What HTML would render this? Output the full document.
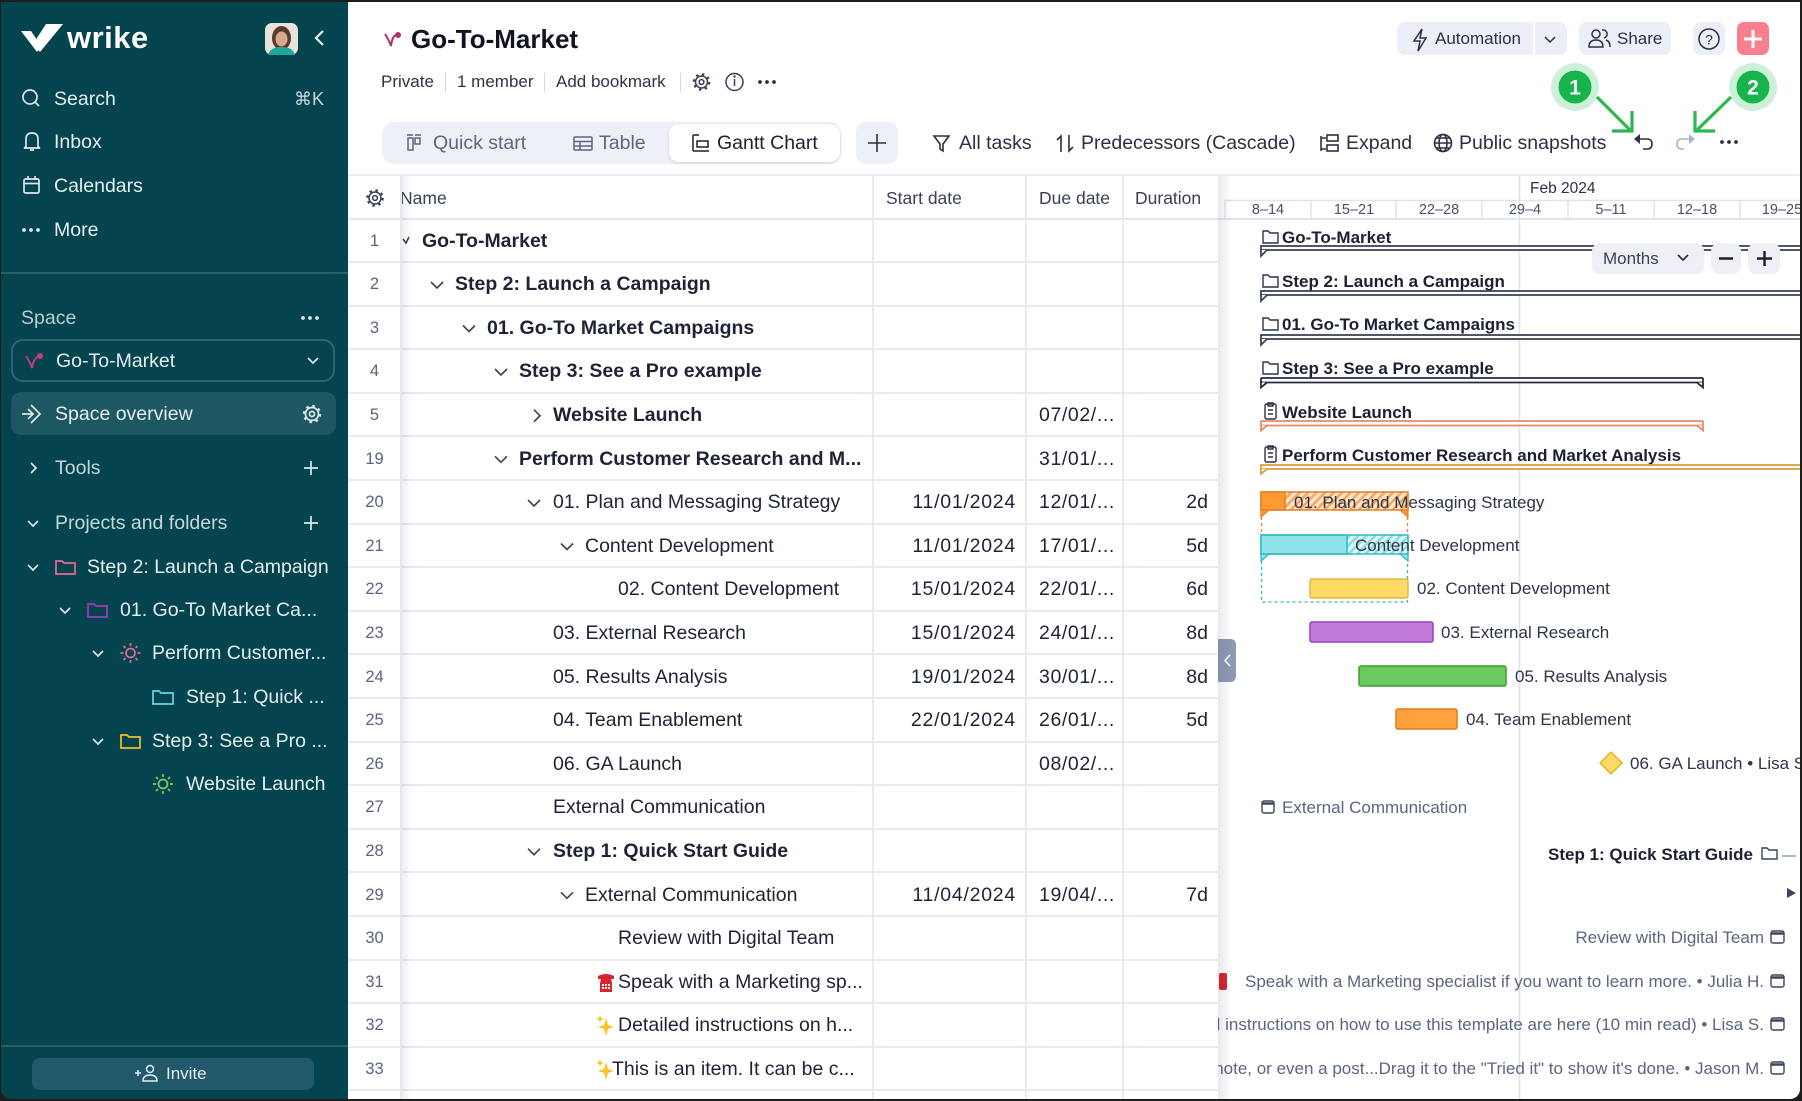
<!DOCTYPE html>
<html><head><meta charset="utf-8">
<style>
*{box-sizing:border-box;margin:0;padding:0}
html,body{width:1802px;height:1101px;overflow:hidden;background:#fff;font-family:"Liberation Sans","DejaVu Sans",sans-serif}
.a{position:absolute}
.t{position:absolute;white-space:nowrap;line-height:30px;height:30px}
.sb{font-size:19.5px;color:#e4eef0}
.row{position:absolute;left:348px;width:870px;height:43.6px;border-bottom:2px solid #e8ebf1}
.row div{position:absolute;top:0;height:43.6px;line-height:42px;white-space:nowrap;font-size:19.5px;color:#1f2336}
.row .n{left:0;width:53px;text-align:center;font-size:16.5px;color:#5b6480}
.row .b{font-weight:bold}
.row .sd{left:525px;width:143px;text-align:right;letter-spacing:.75px}
.row .dd{left:691px;letter-spacing:.6px}
.row .du{left:775px;width:85px;text-align:right}
.tb{font-size:19.5px;color:#2b3044}
.th{font-size:17.5px;color:#3a4055}
</style></head><body>

<!-- sidebar -->
<div class="a" style="left:0;top:0;width:348px;height:1101px;background:#04444e"></div>
<div class="a" style="left:0;top:272px;width:348px;height:2px;background:#2a5f68"></div>
<div class="a" style="left:11px;top:339px;width:324px;height:43px;border:2px solid #2c6570;border-radius:12px"></div>
<div class="a" style="left:11px;top:392px;width:325px;height:43px;background:#1d5862;border-radius:10px"></div>
<div class="a" style="left:0;top:1045px;width:348px;height:2px;background:#2a5f68"></div>
<div class="a" style="left:32px;top:1058px;width:282px;height:32px;background:#22596a;border-radius:8px"></div>

<div class="t" style="left:67px;top:23px;font-size:31px;font-weight:bold;color:#fff;letter-spacing:.5px">wrike</div>
<div class="t sb" style="left:54px;top:84px">Search</div>
<div class="t" style="left:294px;top:84px;font-size:18px;color:#c8d8db">⌘K</div>
<div class="t sb" style="left:54px;top:127px">Inbox</div>
<div class="t sb" style="left:54px;top:171px">Calendars</div>
<div class="t sb" style="left:54px;top:215px">More</div>
<div class="t sb" style="left:21px;top:303px;color:#b9cdd1">Space</div>
<div class="t sb" style="left:56px;top:346px">Go-To-Market</div>
<div class="t sb" style="left:55px;top:399px">Space overview</div>
<div class="t sb" style="left:55px;top:453px;color:#c6d7da">Tools</div>
<div class="t sb" style="left:55px;top:508px;color:#c6d7da">Projects and folders</div>
<div class="t sb" style="left:87px;top:552px">Step 2: Launch a Campaign</div>
<div class="t sb" style="left:120px;top:595px">01. Go-To Market Ca...</div>
<div class="t sb" style="left:152px;top:638px">Perform Customer...</div>
<div class="t sb" style="left:186px;top:682px">Step 1: Quick ...</div>
<div class="t sb" style="left:152px;top:726px">Step 3: See a Pro ...</div>
<div class="t sb" style="left:186px;top:769px">Website Launch</div>
<div class="t" style="left:166px;top:1059px;font-size:17px;color:#e4eef0">Invite</div>

<!-- header -->
<div class="a" style="left:348px;top:174px;width:1454px;height:2px;background:#eceef3"></div>
<div class="t" style="left:411px;top:24px;font-size:26px;font-weight:bold;color:#101322">Go-To-Market</div>
<div class="t" style="left:381px;top:67px;font-size:17px;color:#2e3346">Private</div>
<div class="t" style="left:457px;top:67px;font-size:17px;color:#2e3346">1 member</div>
<div class="t" style="left:556px;top:67px;font-size:17px;color:#2e3346">Add bookmark</div>
<div class="a" style="left:445px;top:73px;width:1px;height:19px;background:#d5d8e0"></div>
<div class="a" style="left:544px;top:73px;width:1px;height:19px;background:#d5d8e0"></div>
<div class="a" style="left:680px;top:73px;width:1px;height:19px;background:#d5d8e0"></div>

<div class="a" style="left:382px;top:122px;width:459px;height:42px;background:#eef0f7;border-radius:12px"></div>
<div class="a" style="left:669px;top:124px;width:171px;height:38px;background:#fff;border-radius:10px;box-shadow:0 1px 3px rgba(30,40,80,.15)"></div>
<div class="a" style="left:856px;top:122px;width:42px;height:42px;background:#eef0f7;border-radius:10px"></div>
<div class="t tb" style="left:433px;top:128px;color:#5d6680">Quick start</div>
<div class="t tb" style="left:599px;top:128px;color:#5d6680">Table</div>
<div class="t tb" style="left:717px;top:128px;color:#1b1f30">Gantt Chart</div>
<div class="t tb" style="left:959px;top:128px">All tasks</div>
<div class="t tb" style="left:1081px;top:128px">Predecessors (Cascade)</div>
<div class="t tb" style="left:1346px;top:128px">Expand</div>
<div class="t tb" style="left:1459px;top:128px">Public snapshots</div>

<div class="a" style="left:1397px;top:22px;width:136px;height:33px;background:#eceff7;border-radius:8px 0 0 8px"></div>
<div class="a" style="left:1535px;top:22px;width:32px;height:33px;background:#eceff7;border-radius:0 8px 8px 0"></div>
<div class="a" style="left:1579px;top:22px;width:92px;height:33px;background:#eceff7;border-radius:8px"></div>
<div class="a" style="left:1693px;top:22px;width:32px;height:33px;background:#eceff7;border-radius:8px"></div>
<div class="a" style="left:1737px;top:22px;width:32px;height:33px;background:#f8808e;border-radius:7px"></div>
<div class="t" style="left:1435px;top:24px;font-size:17px;color:#2b3044">Automation</div>
<div class="t" style="left:1617px;top:24px;font-size:17px;color:#2b3044">Share</div>

<!-- table -->
<div class="t th" style="left:400px;top:183px">Name</div>
<div class="t th" style="left:886px;top:183px">Start date</div>
<div class="t th" style="left:1039px;top:183px">Due date</div>
<div class="t th" style="left:1135px;top:183px">Duration</div>
<div class="a" style="left:348px;top:218px;width:870px;height:2px;background:#e3e7ef"></div>

<div class="row" style="top:219.5px"><div class="n">1</div><div class="b" style="left:74px">Go-To-Market</div></div>
<div class="row" style="top:263.1px"><div class="n">2</div><div class="b" style="left:107px">Step 2: Launch a Campaign</div></div>
<div class="row" style="top:306.7px"><div class="n">3</div><div class="b" style="left:139px">01. Go-To Market Campaigns</div></div>
<div class="row" style="top:350.3px"><div class="n">4</div><div class="b" style="left:171px">Step 3: See a Pro example</div></div>
<div class="row" style="top:393.9px"><div class="n">5</div><div class="b" style="left:205px">Website Launch</div><div class="dd">07/02/...</div></div>
<div class="row" style="top:437.5px"><div class="n">19</div><div class="b" style="left:171px">Perform Customer Research and M...</div><div class="dd">31/01/...</div></div>
<div class="row" style="top:481.1px"><div class="n">20</div><div style="left:205px">01. Plan and Messaging Strategy</div><div class="sd">11/01/2024</div><div class="dd">12/01/...</div><div class="du">2d</div></div>
<div class="row" style="top:524.7px"><div class="n">21</div><div style="left:237px">Content Development</div><div class="sd">11/01/2024</div><div class="dd">17/01/...</div><div class="du">5d</div></div>
<div class="row" style="top:568.3px"><div class="n">22</div><div style="left:270px">02. Content Development</div><div class="sd">15/01/2024</div><div class="dd">22/01/...</div><div class="du">6d</div></div>
<div class="row" style="top:611.9px"><div class="n">23</div><div style="left:205px">03. External Research</div><div class="sd">15/01/2024</div><div class="dd">24/01/...</div><div class="du">8d</div></div>
<div class="row" style="top:655.5px"><div class="n">24</div><div style="left:205px">05. Results Analysis</div><div class="sd">19/01/2024</div><div class="dd">30/01/...</div><div class="du">8d</div></div>
<div class="row" style="top:699.1px"><div class="n">25</div><div style="left:205px">04. Team Enablement</div><div class="sd">22/01/2024</div><div class="dd">26/01/...</div><div class="du">5d</div></div>
<div class="row" style="top:742.7px"><div class="n">26</div><div style="left:205px">06. GA Launch</div><div class="dd">08/02/...</div></div>
<div class="row" style="top:786.3px"><div class="n">27</div><div style="left:205px">External Communication</div></div>
<div class="row" style="top:829.9px"><div class="n">28</div><div class="b" style="left:205px">Step 1: Quick Start Guide</div></div>
<div class="row" style="top:873.5px"><div class="n">29</div><div style="left:237px">External Communication</div><div class="sd">11/04/2024</div><div class="dd">19/04/...</div><div class="du">7d</div></div>
<div class="row" style="top:917.1px"><div class="n">30</div><div style="left:270px">Review with Digital Team</div></div>
<div class="row" style="top:960.7px"><div class="n">31</div><div style="left:270px">Speak with a Marketing sp...</div></div>
<div class="row" style="top:1004.3px"><div class="n">32</div><div style="left:270px">Detailed instructions on h...</div></div>
<div class="row" style="top:1047.9px"><div class="n">33</div><div style="left:264px">This is an item. It can be c...</div></div>

<div class="a" style="left:872px;top:176px;width:2px;height:925px;background:#e8ebf1"></div>
<div class="a" style="left:1025px;top:176px;width:2px;height:925px;background:#e8ebf1"></div>
<div class="a" style="left:1122px;top:176px;width:2px;height:925px;background:#e8ebf1"></div>
<div class="a" style="left:400px;top:176px;width:2px;height:925px;background:#e6e9f0"></div>
<div class="a" style="left:402px;top:176px;width:10px;height:925px;background:linear-gradient(90deg,rgba(20,30,60,.07),rgba(20,30,60,0))"></div>

<!-- global icons -->
<svg class="a" style="left:0;top:0" width="1802" height="1101" viewBox="0 0 1802 1101">
<g fill="#fff">
<polygon points="21,31 31,31 41,46 37,52"/>
<polygon points="33,44 46,24 63,24 40,52"/>
</g>
<rect x="265" y="23" width="33" height="32" rx="7" fill="#e8e2da"/>
<ellipse cx="281.5" cy="38" rx="9.5" ry="12" fill="#5a3a2c"/>
<ellipse cx="281.5" cy="39" rx="6" ry="7.5" fill="#d9a98b"/>
<path d="M268,55 Q270,47 281.5,47 Q293,47 295,55 Z" fill="#1fa79a"/>
<polyline points="323,31 316,38 323,45" fill="none" stroke="#e6eff1" stroke-width="2.2"/>
<g fill="none" stroke="#dce8ea" stroke-width="1.7">
<circle cx="30" cy="97" r="7"/><line x1="35" y1="102" x2="39" y2="106"/>
<path d="M26,147 L26,139 Q26,133 32,133 Q38,133 38,139 L38,147 L40,148 L24,148 Z M30,150 L34,150"/>
<rect x="24" y="179" width="15" height="14" rx="1.5"/><line x1="24" y1="183.5" x2="39" y2="183.5"/><line x1="28" y1="176" x2="28" y2="180"/><line x1="35" y1="176" x2="35" y2="180"/>
<polyline points="308,358 313,363 318,358"/>
<path d="M22,414 L33,414 M28,409 L33,414 L28,419 M31,405 L40,414 L31,423"/>
<circle cx="312" cy="414" r="6.5"/><circle cx="312" cy="414" r="2.5"/><circle cx="312" cy="414" r="8" stroke-width="2.5" stroke-dasharray="2.5 3.8"/>
<polyline points="31,463 36,468 31,473"/>
<path d="M311,461 V475 M304,468 H318 M311,516 V530 M304,523 H318"/>
<polyline points="28,521 33,526 38,521"/>
<polyline points="28,565 33,570 38,565"/>
<polyline points="60,608 65,613 70,608"/>
<polyline points="93,651 98,656 103,651"/>
<polyline points="93,739 98,744 103,739"/>
</g>
<g fill="#dce8ea"><circle cx="24" cy="230" r="1.9"/><circle cx="31" cy="230" r="1.9"/><circle cx="38" cy="230" r="1.9"/>
<circle cx="303" cy="318" r="1.9"/><circle cx="310" cy="318" r="1.9"/><circle cx="317" cy="318" r="1.9"/></g>
<g fill="none" stroke-width="1.7">
<path d="M56,561 h6 l2,2 h11 v11 h-19 z" stroke="#e56b9a"/>
<path d="M88,604 h6 l2,2 h11 v11 h-19 z" stroke="#a23bb8"/>
<path d="M153,691 h6 l2,2 h12 v11 h-20 z" stroke="#6fd3dd"/>
<path d="M121,735 h6 l2,2 h11 v11 h-19 z" stroke="#f2c02e"/>
<g stroke="#e56b9a"><circle cx="130.5" cy="653" r="4.5"/><path d="M130.5,643 v3 M130.5,660 v3 M120.5,653 h3 M137.5,653 h3 M123.5,646 l2,2 M135.5,658 l2,2 M137.5,646 l-2,2 M125.5,658 l-2,2"/></g>
<g stroke="#7ccf62"><circle cx="163" cy="784" r="4.5"/><path d="M163,774 v3 M163,791 v3 M153,784 h3 M170,784 h3 M156,777 l2,2 M168,789 l2,2 M170,777 l-2,2 M158,789 l-2,2"/></g>
<g stroke="#e4eef0" stroke-width="1.5"><circle cx="150" cy="1069" r="3.5"/><path d="M143,1081 Q143,1075 150,1075 Q157,1075 157,1081 Z M135,1073 h6 M138,1070 v6"/></g>
</g>
<g stroke="#c0407a" stroke-width="2" fill="none"><path d="M26,356 Q30,362 32,368 Q33,360 37,357"/></g><circle cx="40" cy="356" r="3" fill="#c0407a"/>
<g stroke="#b0306e" stroke-width="2" fill="none"><path d="M385,34 Q389,40 391,46 Q392,38 395,35"/></g><circle cx="398" cy="35" r="3" fill="#b0306e"/>
<!-- meta icons -->
<g fill="none" stroke="#3a4055" stroke-width="1.5">
<circle cx="701.5" cy="82" r="6"/><circle cx="701.5" cy="82" r="2.4"/><circle cx="701.5" cy="82" r="7.6" stroke-width="2.4" stroke-dasharray="2.4 3.6"/>
<circle cx="734.5" cy="82" r="8.5"/><path d="M734.5,79 v7"/>
</g>
<circle cx="734.5" cy="76.5" r="1.2" fill="#3a4055"/>
<g fill="#2b3044"><circle cx="760" cy="82" r="1.9"/><circle cx="767" cy="82" r="1.9"/><circle cx="774" cy="82" r="1.9"/></g>
<!-- toolbar icons -->
<g fill="none" stroke="#5d6680" stroke-width="1.5">
<rect x="408" y="138" width="5" height="12"/><rect x="415" y="138" width="5" height="6"/><path d="M407,135 h6 M415,135 h6"/>
<rect x="574" y="137" width="18" height="13" rx="1"/><path d="M574,141.5 h18 M574,146 h18 M580,141.5 v8.5"/>
</g>
<g fill="none" stroke="#1b1f30" stroke-width="1.5"><path d="M693,135 h6 M693,135 v16 M693,151 h16"/><rect x="697" y="141" width="11" height="6"/></g>
<g fill="none" stroke="#2b3044" stroke-width="1.6">
<path d="M877,134 v18 M868,143 h18"/>
<path d="M934,136 h15 l-6,8 v7 l-3,-2 v-5 z"/>
<path d="M1061,152 v-16 l-4,4 M1069,135 v16 l4,-4"/>
<path d="M1321,136 v15 M1321,138 h5 M1321,149 h5"/><rect x="1327" y="135" width="11" height="6"/><rect x="1327" y="145" width="11" height="6"/>
<circle cx="1443" cy="143" r="8.5"/><ellipse cx="1443" cy="143" rx="4" ry="8.5"/><path d="M1434.5,143 h17 M1436,138 h14 M1436,148 h14"/>
<path d="M1638,139 h9 q5,0 5,5 q0,5 -5,5 h-4"/>
</g>
<polygon points="1634,139 1640,134 1640,144" fill="#2b3044"/>
<g fill="none" stroke="#a9b4c8" stroke-width="1.6"><path d="M1691,139 h-9 q-5,0 -5,5 q0,5 5,5 h2"/></g>
<polygon points="1695,139 1689,134 1689,144" fill="#a9b4c8"/>
<g fill="#2b3044"><circle cx="1722" cy="142" r="1.9"/><circle cx="1729" cy="142" r="1.9"/><circle cx="1736" cy="142" r="1.9"/></g>
<!-- header right icons -->
<g fill="none" stroke="#2b3044" stroke-width="1.5">
<path d="M1422,29 l-8,12 h6 l-2,10 l8,-13 h-6 z"/>
<polyline points="1545,37 1550,42 1555,37"/>
<circle cx="1596" cy="34" r="4"/><path d="M1589,47 q0,-7 7,-7 q7,0 7,7 z"/><path d="M1602,30 a4,4 0 0 1 2,8 M1606,40 q4,1 4,7"/>
<circle cx="1709" cy="39" r="10"/>
</g>
<text x="1709" y="44.5" font-size="14" text-anchor="middle" fill="#2b3044" font-family="Liberation Sans">?</text>
<path d="M1753,30 v18 M1744,39 h18" stroke="#fff" stroke-width="3"/>
<!-- table header gear -->
<g fill="none" stroke="#3a4055" stroke-width="1.5"><circle cx="375" cy="198" r="6"/><circle cx="375" cy="198" r="2.4"/><circle cx="375" cy="198" r="7.6" stroke-width="2.4" stroke-dasharray="2.4 3.6"/></g>
<!-- table chevrons -->
<g fill="none" stroke="#3a4055" stroke-width="1.6">
<polyline points="403,239 406,243 409,237"/>
<polyline points="431,282 437,288 443,282"/>
<polyline points="463,325.5 469,331.5 475,325.5"/>
<polyline points="495,369 501,375 507,369"/>
<polyline points="534,409.7 540,415.7 534,421.7"/>
<polyline points="495,456.3 501,462.3 507,456.3"/>
<polyline points="528,500 534,506 540,500"/>
<polyline points="561,543.5 567,549.5 573,543.5"/>
<polyline points="528,848.7 534,854.7 540,848.7"/>
<polyline points="561,892.3 567,898.3 573,892.3"/>
</g>
<!-- emojis -->
<path d="M598,976 q8,-4 16,0 v3 h-3 l1,4 v9 h-12 v-9 l1,-4 h-3 z" fill="#d9252b"/>
<g fill="#fff"><rect x="602" y="984" width="2" height="2"/><rect x="605" y="984" width="2" height="2"/><rect x="608" y="984" width="2" height="2"/><rect x="602" y="987" width="2" height="2"/><rect x="605" y="987" width="2" height="2"/><rect x="608" y="987" width="2" height="2"/></g>
<g fill="#f6c42b">
<path d="M606,1018 l2,7 l6,2 l-6,2 l-2,7 l-2,-7 l-6,-2 l6,-2 z"/><path d="M600,1015 l1,3 l3,1 l-3,1 l-1,3 l-1,-3 l-3,-1 l3,-1 z"/>
<path d="M606,1062 l2,7 l6,2 l-6,2 l-2,7 l-2,-7 l-6,-2 l6,-2 z"/><path d="M600,1059 l1,3 l3,1 l-3,1 l-1,3 l-1,-3 l-3,-1 l3,-1 z"/>
</g>
</svg>

<!-- gantt -->
<svg class="a" style="left:1218px;top:176px" width="584" height="925" viewBox="1218 176 584 925" font-family="Liberation Sans, DejaVu Sans, sans-serif">
<defs>
<pattern id="ho" width="6" height="6" patternUnits="userSpaceOnUse" patternTransform="rotate(45)"><rect width="6" height="6" fill="#fde6cf"/><rect width="2.5" height="6" fill="#f7a65c"/></pattern>
<pattern id="hc" width="6" height="6" patternUnits="userSpaceOnUse" patternTransform="rotate(45)"><rect width="6" height="6" fill="#e2f7f8"/><rect width="2.5" height="6" fill="#86dde3"/></pattern>
<linearGradient id="sh" x1="0" x2="1"><stop offset="0" stop-color="#1e2850" stop-opacity=".10"/><stop offset="1" stop-color="#1e2850" stop-opacity="0"/></linearGradient>
</defs>
<rect x="1218" y="176" width="584" height="925" fill="#fff"/>
<line x1="1225" y1="200.5" x2="1802" y2="200.5" stroke="#e1e5ee" stroke-width="1.5"/>
<line x1="1218" y1="219" x2="1802" y2="219" stroke="#e1e5ee" stroke-width="2"/>
<g stroke="#e1e5ee" stroke-width="1.5">
<line x1="1225" y1="200" x2="1225" y2="219"/><line x1="1311" y1="200" x2="1311" y2="219"/><line x1="1396" y1="200" x2="1396" y2="219"/><line x1="1482" y1="200" x2="1482" y2="219"/><line x1="1568" y1="200" x2="1568" y2="219"/><line x1="1654" y1="200" x2="1654" y2="219"/><line x1="1740" y1="200" x2="1740" y2="219"/>
</g>
<line x1="1519.5" y1="176" x2="1519.5" y2="1101" stroke="#dde2ec" stroke-width="1.5"/>
<text x="1530" y="193" font-size="15.5" fill="#2b3045">Feb 2024</text>
<g font-size="14.5" fill="#4a5168" text-anchor="middle">
<text x="1268" y="214">8–14</text><text x="1354" y="214">15–21</text><text x="1439" y="214">22–28</text><text x="1525" y="214">29–4</text><text x="1611" y="214">5–11</text><text x="1697" y="214">12–18</text><text x="1782" y="214">19–25</text>
</g>
<!-- summary labels -->
<g font-size="17" font-weight="bold" fill="#1d2033">
<text x="1282" y="243">Go-To-Market</text>
<text x="1282" y="287">Step 2: Launch a Campaign</text>
<text x="1282" y="330">01. Go-To Market Campaigns</text>
<text x="1282" y="374">Step 3: See a Pro example</text>
<text x="1282" y="418">Website Launch</text>
<text x="1282" y="461">Perform Customer Research and Market Analysis</text>
</g>
<g fill="none" stroke="#2d3245" stroke-width="1.4">
<path d="M1263,231 h5 l2,2 h8 v10 h-15 z"/>
<path d="M1263,275 h5 l2,2 h8 v10 h-15 z"/>
<path d="M1263,318 h5 l2,2 h8 v10 h-15 z"/>
<path d="M1263,362 h5 l2,2 h8 v10 h-15 z"/>
<rect x="1265" y="404" width="11" height="15" rx="1.5"/><path d="M1268,403 h5 v3 h-5 z M1268,410 h5 M1268,414 h5"/>
<rect x="1265" y="447" width="11" height="15" rx="1.5"/><path d="M1268,446 h5 v3 h-5 z M1268,453 h5 M1268,457 h5"/>
</g>
<!-- summary bars -->
<g fill="#fff" stroke-width="1.8">
<g stroke="#3e4459"><rect x="1261" y="246" width="560" height="4"/><path d="M1261,250 v6 l6,-6"/>
<rect x="1261" y="291" width="560" height="4"/><path d="M1261,295 v6 l6,-6"/>
<rect x="1261" y="335" width="560" height="4"/><path d="M1261,339 v6 l6,-6"/></g>
<g stroke="#262b40"><rect x="1261" y="378" width="442" height="4.5" rx="1"/><path d="M1261,382.5 v5 l6,-5 M1703,382.5 v5 l-6,-5"/></g>
<g stroke="#e58a6c"><rect x="1261" y="421" width="442" height="4.5" rx="1"/><path d="M1261,425.5 v5 l6,-5 M1703,425.5 v5 l-6,-5"/></g>
<g stroke="#d9a23b"><rect x="1261" y="465" width="560" height="4"/><path d="M1261,469 v5 l6,-5"/></g>
</g>
<!-- task bars -->
<rect x="1261" y="492" width="147" height="18" fill="url(#ho)" stroke="#e27f25" stroke-width="1.5"/>
<rect x="1261" y="492" width="24" height="18" fill="#ff9a2e" stroke="#e27f25" stroke-width="1.5"/>
<path d="M1261,510 v7 l8,-7 z M1408,510 v7 l-8,-7 z" fill="#ff9a2e" stroke="#e27f25" stroke-width="1.2"/>
<g stroke="#e8833a" stroke-width="1.3" stroke-dasharray="3 3"><line x1="1261.5" y1="517" x2="1261.5" y2="535"/><line x1="1407.5" y1="517" x2="1407.5" y2="535"/></g>
<rect x="1261" y="535" width="147" height="19" fill="url(#hc)" stroke="#2bb8c4" stroke-width="1.5"/>
<rect x="1261" y="535" width="86" height="19" fill="#8ee4e8" stroke="#2bb8c4" stroke-width="1.5"/>
<path d="M1261,554 v7 l8,-7 z M1408,554 v7 l-8,-7 z" fill="#8ee4e8" stroke="#2bb8c4" stroke-width="1.2"/>
<g stroke="#35b8c4" stroke-width="1.3" stroke-dasharray="3 3" fill="none"><path d="M1261.5,561 V602 H1407.5 V561"/></g>
<rect x="1310" y="579" width="98" height="19" rx="2" fill="#fedb66" stroke="#e5b547" stroke-width="1.5"/>
<rect x="1310" y="622" width="123" height="20" rx="2" fill="#c27ad8" stroke="#9b3dc0" stroke-width="1.5"/>
<rect x="1359" y="666" width="147" height="20" rx="2" fill="#6ccb5f" stroke="#3d9c34" stroke-width="1.5"/>
<rect x="1396" y="709" width="61" height="20" rx="2" fill="#ffa03c" stroke="#dd7a1c" stroke-width="1.5"/>
<path d="M1611,752 l11,11 l-11,11 l-11,-11 z" fill="#ffd966" stroke="#e3b21d" stroke-width="1.5" stroke-linejoin="round"/>
<g font-size="17" fill="#2e3448">
<text x="1294" y="508">01. Plan and Messaging Strategy</text>
<text x="1355" y="551">Content Development</text>
<text x="1417" y="594">02. Content Development</text>
<text x="1441" y="638">03. External Research</text>
<text x="1515" y="682">05. Results Analysis</text>
<text x="1466" y="725">04. Team Enablement</text>
<text x="1630" y="769">06. GA Launch • Lisa S.</text>
</g>
<g font-size="17" fill="#5b6580">
<text x="1282" y="813">External Communication</text>
<text x="1764" y="943" text-anchor="end">Review with Digital Team</text>
<text x="1764" y="987" text-anchor="end">Speak with a Marketing specialist if you want to learn more. • Julia H.</text>
<text x="1764" y="1030" text-anchor="end">Detailed instructions on how to use this template are here (10 min read) • Lisa S.</text>
<text x="1764" y="1074" text-anchor="end">This is an item. It can be a task, a note, or even a post...Drag it to the "Tried it" to show it's done. • Jason M.</text>
</g>
<rect x="1219" y="973" width="8" height="17" rx="2" fill="#d9252b"/>
<text x="1753" y="860" font-size="17" font-weight="bold" fill="#1d2033" text-anchor="end">Step 1: Quick Start Guide</text>
<g fill="none" stroke="#3d4459" stroke-width="1.4">
<path d="M1762,848 h5 l2,2 h8 v9 h-15 z"/>
<line x1="1782" y1="856" x2="1796" y2="856" stroke="#8a93a8"/>
<rect x="1262" y="801" width="12" height="12" rx="2"/><line x1="1262" y1="803.5" x2="1274" y2="803.5" stroke-width="2.5"/>
<rect x="1771" y="931" width="13" height="12" rx="2"/><line x1="1771" y1="933.5" x2="1784" y2="933.5" stroke-width="2.5"/>
<rect x="1771" y="975" width="13" height="12" rx="2"/><line x1="1771" y1="977.5" x2="1784" y2="977.5" stroke-width="2.5"/>
<rect x="1771" y="1018" width="13" height="12" rx="2"/><line x1="1771" y1="1020.5" x2="1784" y2="1020.5" stroke-width="2.5"/>
<rect x="1771" y="1062" width="13" height="12" rx="2"/><line x1="1771" y1="1064.5" x2="1784" y2="1064.5" stroke-width="2.5"/>
</g>
<polygon points="1787,888 1796,893 1787,898" fill="#3d4459"/>
<!-- months control -->
<rect x="1592" y="243" width="112" height="31" rx="8" fill="#eef0f6"/>
<rect x="1711" y="243" width="30" height="31" rx="8" fill="#eef0f6"/>
<rect x="1748" y="243" width="32" height="31" rx="8" fill="#eef0f6"/>
<text x="1603" y="264" font-size="17" fill="#3a4055">Months</text>
<polyline points="1678,255 1683,260 1688,255" fill="none" stroke="#2b3044" stroke-width="1.8"/>
<path d="M1719,258.5 h14 M1757,258.5 h15 M1764.5,251 v15" stroke="#1d2033" stroke-width="2.5"/>
<!-- collapse tab -->
<path d="M1218,639 h12 q6,0 6,6 v31 q0,6 -6,6 h-12 z" fill="#8e9ab2"/>
<polyline points="1230,655 1225,660.5 1230,666" fill="none" stroke="#fff" stroke-width="1.6"/>
<rect x="1218" y="176" width="14" height="925" fill="url(#sh)"/>
</svg>

<!-- badges -->
<svg class="a" style="left:1540px;top:55px" width="250" height="90" viewBox="1540 55 250 90">
<circle cx="1575" cy="87" r="24" fill="#cdf1d8"/><circle cx="1575" cy="87" r="16.5" fill="#17b44c"/>
<circle cx="1753" cy="87" r="24" fill="#cdf1d8"/><circle cx="1753" cy="87" r="16.5" fill="#17b44c"/>
<text x="1575" y="94.5" font-size="21" font-weight="bold" fill="#fff" text-anchor="middle" font-family="Liberation Sans">1</text>
<text x="1753" y="94.5" font-size="21" font-weight="bold" fill="#fff" text-anchor="middle" font-family="Liberation Sans">2</text>
<g stroke="#2cb84f" stroke-width="3.2" fill="none">
<path d="M1597,97 L1631,131 M1612,131 H1632 V111"/>
<path d="M1731,97 L1696,131 M1715,131 H1695 V111"/>
</g>
</svg>

<!-- frame -->
<div class="a" style="left:1px;top:2px;width:1799px;height:1097px;border-radius:0 0 10px 10px;box-shadow:0 0 0 30px #1c1c1c;pointer-events:none"></div>
</body></html>
